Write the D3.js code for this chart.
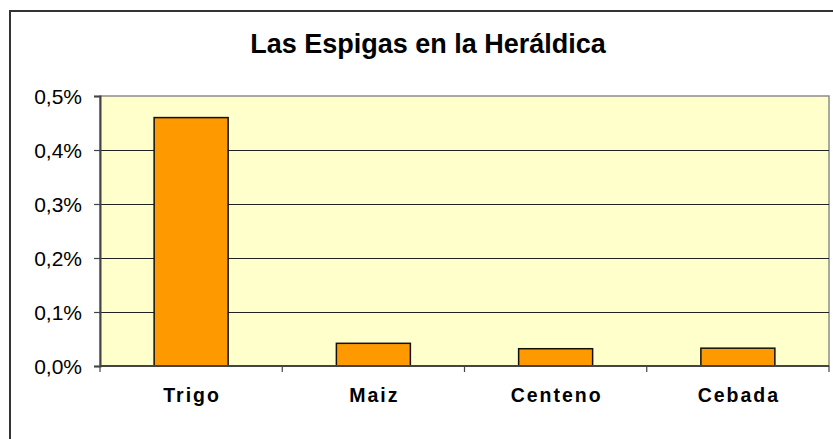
<!DOCTYPE html>
<html>
<head>
<meta charset="utf-8">
<script src="https://cdn.jsdelivr.net/npm/d3@7"></script>
<style>
  html, body { margin: 0; padding: 0; background: #ffffff; }
  svg { display: block; }
  text { font-family: "Liberation Sans", Arial, sans-serif; }
</style>
</head>
<body>
<svg id="chart" width="833" height="439"></svg>
<script>
// Share of coats of arms featuring each kind of grain ear (percent)
const categories = ["Trigo", "Maiz", "Centeno", "Cebada"];
const values = [0.46, 0.042, 0.032, 0.033];
const yTicks = [0, 0.1, 0.2, 0.3, 0.4, 0.5];
const title = "Las Espigas en la Heráldica";

const svg = d3.select("#chart");

// Chart frame
svg.append("rect")
  .attr("x", 10).attr("y", 11)
  .attr("width", 860).attr("height", 460)
  .attr("fill", "#ffffff")
  .attr("stroke", "#333333")
  .attr("stroke-width", 2);

const plot = { left: 100, right: 829, top: 96, bottom: 366 };

const x = d3.scaleBand()
  .domain(categories)
  .range([plot.left, plot.right])
  .paddingInner(0.594)
  .paddingOuter(0.297);

const y = d3.scaleLinear()
  .domain([0, 0.5])
  .range([plot.bottom, plot.top]);

// Plot background
svg.append("rect")
  .attr("x", plot.left).attr("y", plot.top)
  .attr("width", plot.right - plot.left)
  .attr("height", plot.bottom - plot.top)
  .attr("fill", "#FFFFCC")
  .attr("stroke", "#8c8c8c")
  .attr("stroke-width", 1.5);

// Horizontal gridlines
svg.append("g")
  .selectAll("line")
  .data(yTicks.filter(d => d > 0 && d < 0.5))
  .join("line")
  .attr("x1", plot.left).attr("x2", plot.right)
  .attr("y1", d => Math.round(y(d)) + 0.5)
  .attr("y2", d => Math.round(y(d)) + 0.5)
  .attr("stroke", "#222222")
  .attr("stroke-width", 1);

// Bars
svg.append("g")
  .selectAll("rect")
  .data(categories)
  .join("rect")
  .attr("x", d => x(d))
  .attr("width", x.bandwidth())
  .attr("y", (d, i) => y(values[i]))
  .attr("height", (d, i) => y(0) - y(values[i]))
  .attr("fill", "#FF9900")
  .attr("stroke", "#111111")
  .attr("stroke-width", 1.5);

// Y axis
const yAxis = d3.axisLeft(y)
  .tickValues(yTicks)
  .tickSize(6)
  .tickPadding(12)
  .tickFormat(d => d3.format(".1f")(d).replace(".", ",") + "%");

const gy = svg.append("g")
  .attr("transform", `translate(${plot.left},0)`)
  .call(yAxis);
gy.select(".domain").attr("stroke", "#444444").attr("stroke-width", 2);
gy.selectAll(".tick line").attr("stroke", "#444444").attr("stroke-width", 1.2);
gy.selectAll(".tick text")
  .attr("fill", "#000000")
  .attr("font-size", "21px")
  .attr("dy", "0.34em");

// X axis with ticks at category boundaries
const gx = svg.append("g")
  .attr("transform", `translate(0,${plot.bottom})`);
gx.append("line")
  .attr("x1", plot.left).attr("x2", plot.right)
  .attr("y1", 0).attr("y2", 0)
  .attr("stroke", "#444444").attr("stroke-width", 2);
const bounds = categories.map(c => x(c) - x.step() * x.paddingInner() / 2)
  .concat([plot.right]);
gx.selectAll("line.tk")
  .data(bounds)
  .join("line")
  .attr("class", "tk")
  .attr("x1", d => d).attr("x2", d => d)
  .attr("y1", 0).attr("y2", 6)
  .attr("stroke", "#444444").attr("stroke-width", 1.2);
gx.selectAll("text")
  .data(categories)
  .join("text")
  .attr("x", d => x(d) + x.bandwidth() / 2 + 1)
  .attr("y", 36)
  .attr("text-anchor", "middle")
  .attr("font-size", "19.5px")
  .attr("font-weight", "bold")
  .attr("letter-spacing", "2px")
  .attr("fill", "#000000")
  .text(d => d);

// Title
svg.append("text")
  .attr("x", 428)
  .attr("y", 52.5)
  .attr("text-anchor", "middle")
  .attr("font-size", "27px")
  .attr("font-weight", "bold")
  .attr("fill", "#000000")
  .text(title);
</script>
</body>
</html>
